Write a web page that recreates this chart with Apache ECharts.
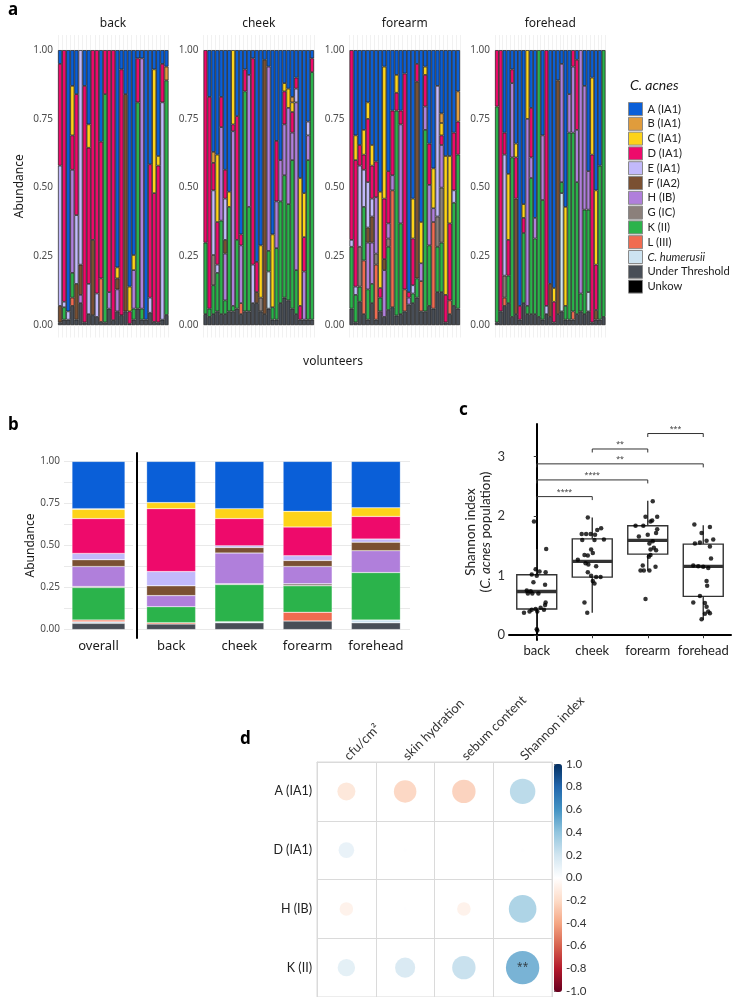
<!DOCTYPE html>
<html><head><meta charset="utf-8">
<script src="https://cdn.jsdelivr.net/npm/echarts@6/dist/echarts.min.js"></script>
<style>html,body{margin:0;padding:0;background:#fff}#c{width:734px;height:997px}</style>
</head><body><div id="c"></div>
<script>
// ---------- DATA ----------
const strainCodes = ['A','B','C','D','E','F','H','G','K','L','Chum','UT','UNK'];
const strainNames = ['A (IA1)','B (IA1)','C (IA1)','D (IA1)','E (IA1)','F (IA2)','H (IB)','G (IC)','K (II)','L (III)','C. humerusii','Under Threshold','Unkow'];
const sites = ['back','cheek','forearm','forehead'];

// Panel a: each volunteer bar lists strains from the top down, each followed by the
// cumulative abundance at the lower edge of its segment (first segment starts at 1.00).
const backBars = [
  ['A',.95,'D',.58,'E',.07,'F',.01,'UT',0],
  ['D',.085,'E',.065,'K',.02,'UT',0],
  ['A',.05,'E',.02,'UT',0],
  ['A',.87,'C',.69,'D',.565,'H',.19,'K',.10,'L',.07,'UT',0],
  ['A',.84,'D',.40,'E',.15,'F',.02,'UT',0],
  ['E',.22,'F',.11,'H',.08,'UT',0],
  ['A',.87,'D',.01,'UT',0],
  ['A',.73,'C',.645,'D',.15,'E',.04,'UT',0],
  ['D',.31,'F',.036,'UT',0],
  ['D',.115,'E',.03,'UT',0],
  ['A',.667,'D',.17,'L',.012,'UT',0],
  ['D',.84,'K',.01,'UT',0],
  ['D',.12,'H',.06,'UT',0],
  ['D',.018,'UT',0],
  ['A',.21,'C',.17,'F',.13,'H',.05,'UT',0],
  ['A',.93,'D',.036,'UT',0],
  ['A',.84,'F',.05,'UT',0],
  ['A',.14,'C',.05,'D',.005,'UT',0],
  ['A',.255,'C',.20,'H',.06,'K',.02,'UT',0],
  ['A',.97,'D',.81,'K',.06,'UT',0],
  ['A',.97,'H',.06,'K',.02,'UT',0],
  ['A',.02,'UT',0],
  ['A',.585,'D',.10,'E',.045,'UT',0],
  ['A',.93,'C',.48,'D',.012,'UT',0],
  ['A',.615,'C',.58,'D',.01,'UT',0],
  ['A',.95,'D',.81,'E',.02,'UT',0],
  ['A',.94,'B',.89,'K',.037,'UT',0]
];
const cheekBars = [
  ['D',.30,'K',.04,'UT',0],
  ['A',.83,'D',.06,'K',.03,'UT',0],
  ['A',.63,'B',.59,'D',.49,'E',.255,'G',.145,'K',.04,'UT',0],
  ['A',.62,'C',.375,'D',.22,'E',.19,'K',.05,'UT',0],
  ['A',.83,'D',.72,'H',.38,'K',.04,'UT',0],
  ['A',.565,'D',.46,'E',.31,'F',.26,'H',.09,'K',.04,'UT',0],
  ['A',.485,'C',.43,'K',.05,'UT',0],
  ['C',.73,'D',.705,'H',.07,'K',.05,'UT',0],
  ['A',.76,'D',.31,'K',.06,'UT',0],
  ['A',.33,'D',.29,'H',.08,'L',.04,'UT',0],
  ['A',.93,'D',.85,'K',.05,'UT',0],
  ['A',.91,'H',.43,'K',.05,'UT',0],
  ['A',.97,'D',.22,'E',.08,'UT',0],
  ['A',.23,'D',.12,'F',.08,'UT',0],
  ['A',.29,'C',.10,'G',.05,'UT',0],
  ['A',.965,'F',.04,'UT',0],
  ['A',.94,'H',.27,'K',.195,'Chum',.06,'UT',0],
  ['A',.33,'C',.065,'K',.02,'UT',0],
  ['A',.67,'D',.45,'H',.28,'K',.02,'UT',0],
  ['A',.60,'H',.45,'K',.08,'UT',0],
  ['A',.88,'C',.85,'D',.73,'H',.545,'K',.10,'UT',0],
  ['A',.86,'C',.79,'H',.44,'K',.09,'UT',0],
  ['A',.83,'B',.81,'C',.775,'D',.70,'H',.60,'K',.06,'UT',0],
  ['A',.90,'D',.86,'E',.81,'H',.20,'K',.04,'UT',0],
  ['A',.535,'C',.07,'D',.02,'UT',0],
  ['A',.48,'C',.32,'D',.195,'H',.02,'UT',0],
  ['A',.74,'E',.69,'H',.60,'K',.02,'UT',0],
  ['A',.97,'D',.92,'K',.02,'UT',0]
];
const forearmBars = [
  ['D',.31,'E',.285,'K',.06,'UT',0],
  ['A',.69,'C',.60,'D',.14,'E',.11,'K',.01,'UT',0],
  ['A',.655,'D',.58,'E',.285,'G',.14,'K',.085,'UT',0],
  ['A',.71,'C',.62,'D',.565,'E',.43,'K',.235,'L',.04,'UT',0],
  ['A',.81,'C',.75,'D',.52,'E',.355,'F',.30,'H',.13,'K',.02,'UT',0],
  ['A',.655,'C',.58,'D',.46,'E',.395,'F',.30,'H',.15,'K',.08,'UT',0],
  ['A',.595,'D',.465,'H',.26,'G',.22,'L',.02,'UT',0],
  ['A',.485,'C',.135,'D',.10,'K',.05,'UT',0],
  ['A',.94,'C',.46,'D',.24,'F',.20,'H',.03,'UT',0],
  ['A',.56,'D',.37,'H',.315,'G',.285,'K',.055,'UT',0],
  ['A',.78,'D',.545,'H',.49,'L',.065,'UT',0],
  ['A',.91,'C',.845,'D',.78,'K',.035,'UT',0],
  ['A',.78,'D',.73,'H',.37,'K',.04,'UT',0],
  ['A',.915,'D',.13,'L',.05,'UT',0],
  ['A',.12,'D',.10,'H',.075,'UT',0],
  ['A',.46,'C',.315,'D',.145,'E',.115,'K',.08,'UT',0],
  ['A',.95,'D',.885,'F',.17,'K',.10,'UT',0],
  ['A',.375,'C',.225,'H',.16,'L',.05,'UT',0],
  ['A',.94,'C',.91,'D',.795,'H',.71,'K',.05,'UT',0],
  ['A',.66,'D',.51,'H',.29,'K',.07,'UT',0],
  ['A',.57,'C',.425,'H',.375,'L',.06,'UT',0],
  ['A',.87,'E',.395,'G',.285,'K',.12,'UT',0],
  ['A',.77,'B',.735,'C',.69,'D',.655,'H',.50,'G',.30,'K',.12,'UT',0],
  ['A',.615,'C',.11,'D',.01,'UT',0],
  ['A',.615,'C',.37,'D',.09,'L',.04,'UT',0],
  ['A',.70,'D',.49,'E',.445,'K',.07,'UT',0],
  ['A',.85,'B',.74,'D',.62,'K',.06,'UT',0]
];
const foreheadBars = [
  ['D',.795,'K',.01,'UT',0],
  ['D',.05,'UT',0],
  ['A',.70,'D',.62,'E',.18,'G',.10,'L',.07,'UT',0],
  ['A',.55,'C',.31,'D',.18,'K',.08,'UT',0],
  ['A',.93,'D',.88,'H',.61,'K',.03,'UT',0],
  ['A',.66,'C',.61,'D',.46,'F',.04,'UT',0],
  ['A',.07,'D',.02,'UT',0],
  ['A',.44,'C',.39,'D',.335,'K',.08,'UT',0],
  ['C',.75,'H',.07,'K',.04,'UT',0],
  ['A',.79,'D',.61,'H',.535,'K',.04,'UT',0],
  ['A',.39,'H',.315,'K',.04,'UT',0],
  ['K',.03,'UT',0],
  ['A',.69,'H',.455,'K',.02,'UT',0],
  ['D',.07,'E',.04,'UT',0],
  ['A',.15,'F',.03,'UT',0],
  ['A',.135,'C',.085,'D',.01,'UT',0],
  ['A',.89,'F',.04,'UT',0],
  ['A',.95,'H',.52,'K',.48,'Chum',.05,'UT',0],
  ['A',.43,'C',.07,'K',.02,'UT',0],
  ['A',.84,'H',.70,'K',.02,'UT',0],
  ['D',.94,'H',.70,'K',.05,'L',.02,'UT',0],
  ['A',.965,'D',.71,'H',.52,'K',.04,'UT',0],
  ['H',.115,'K',.05,'UT',0],
  ['A',.87,'H',.42,'K',.04,'UT',0],
  ['A',.56,'H',.42,'K',.12,'Chum',.05,'UT',0],
  ['A',.90,'C',.62,'D',.01,'UT',0],
  ['A',.49,'C',.22,'D',.055,'F',.02,'UT',0],
  ['A',.58,'K',.02,'UT',0],
  ['K',.03,'UT',0]
];

// Panel b: mean composition (same encoding)
const overallStack  = ['A',.719,'B',.715,'C',.66,'D',.453,'E',.415,'F',.375,'H',.256,'G',.25,'K',.057,'L',.047,'Chum',.037,'UT',0];
const backStack     = ['A',.755,'C',.719,'D',.345,'E',.26,'F',.202,'H',.136,'K',.041,'L',.033,'UT',0];
const cheekStack    = ['A',.719,'C',.66,'D',.498,'E',.488,'F',.455,'H',.272,'G',.268,'K',.047,'Chum',.04,'UT',0];
const forearmStack  = ['A',.703,'C',.61,'D',.439,'E',.411,'F',.375,'H',.272,'G',.26,'K',.103,'L',.051,'UT',0];
const foreheadStack = ['A',.724,'C',.673,'D',.538,'E',.52,'F',.469,'H',.339,'K',.057,'Chum',.04,'UT',0];

// Panel c: Shannon index boxplots [lower whisker, Q1, median, Q3, upper whisker]
const shannonBox = [
  [0.09, 0.44, 0.736, 1.017, 1.45],
  [0.38, 0.977, 1.241, 1.62, 1.98],
  [1.09, 1.364, 1.594, 1.84, 2.26],
  [0.261, 0.653, 1.157, 1.532, 1.85]
];
const shannonBack     = [1.91,1.45,1.11,1.07,1.06,1.02,1.00,0.89,0.85,0.75,0.70,0.70,0.70,0.74,0.55,0.51,0.46,0.44,0.43,0.40,0.38,0.40,0.43,0.10,0.08];
const jitterBack      = [-0.05,0.17,-0.02,0.05,0.16,-0.09,0.0,-0.06,0.15,-0.18,-0.08,0.03,-0.16,-0.11,0.16,0.15,0.07,-0.02,-0.09,-0.13,-0.23,0.01,0.13,0.0,0.01];
const shannonCheek    = [1.98,1.80,1.77,1.70,1.70,1.70,1.69,1.61,1.60,1.60,1.44,1.35,1.34,1.38,1.27,1.21,1.19,1.16,1.06,1.00,0.98,0.98,0.91,0.87,0.55,0.38];
const jitterCheek     = [-0.08,0.16,0.09,-0.19,-0.11,-0.03,0.05,0.21,0.04,-0.18,-0.02,-0.14,-0.08,0.01,-0.26,-0.12,-0.07,0.07,-0.08,-0.02,0.07,0.15,0.01,0.04,-0.14,-0.09];
const shannonForearm  = [2.25,1.99,1.99,1.93,1.91,1.84,1.84,1.78,1.72,1.69,1.66,1.58,1.54,1.47,1.44,1.43,1.35,1.32,1.17,1.15,1.09,1.09,1.09,0.61];
const jitterForearm   = [0.09,-0.04,0.17,0.08,0.05,-0.22,-0.08,0.17,0.15,0.0,-0.16,0.09,0.03,0.11,0.05,0.15,0.05,0.02,-0.09,0.14,-0.13,-0.07,0.03,-0.04];
const shannonForehead = [1.86,1.82,1.72,1.61,1.59,1.56,1.54,1.49,1.29,1.17,1.16,1.15,1.13,0.91,0.83,0.66,0.55,0.54,0.48,0.40,0.37,0.27,0.36];
const jitterForehead  = [-0.16,0.12,-0.03,0.18,0.06,-0.06,-0.15,0.12,0.14,-0.18,-0.09,0.0,0.09,0.06,0.07,-0.06,-0.18,0.03,0.06,0.09,0.12,-0.03,0.03];
// significance brackets
const bracketFrom  = [2, 1, 0, 0, 0];
const bracketTo    = [3, 2, 3, 2, 1];
const bracketY     = [3.39, 3.13, 2.88, 2.61, 2.33];
const bracketLabel = ['***', '**', '**', '****', '****'];

// Panel d: correlations
const corrCols = ['cfu/cm²', 'skin hydration', 'sebum content', 'Shannon index'];
const corrRows = ['A (IA1)', 'D (IA1)', 'H (IB)', 'K (II)'];
const corrA = [-0.16, -0.25, -0.27, 0.32];
const corrD = [0.12, 0.005, 0.003, 0.005];
const corrH = [-0.09, 0.004, -0.09, 0.376];
const corrK = [0.15, 0.20, 0.27, 0.55];
const corrSig = [['','','',''],['','','',''],['','','',''],['','','','**']];
const colorbarTicks = [-1, 1, 0.2];

// ---------- STYLES ----------
const strainColors = ['#0a5fd8','#e09c3c','#fdd319','#ee0a6b','#c2b9fb','#7a5032','#b07fdb','#8b807b','#2bb34b','#f06b50','#cde3f1','#484e57','#000000'];
const stackOrder = ['UNK','UT','Chum','L','K','G','H','F','E','D','C','B','A'];
const nameOf = {}, colorOf = {};
strainCodes.forEach((c, i) => { nameOf[c] = strainNames[i]; colorOf[c] = strainColors[i]; });
const RdBu = ['#67001F','#B2182B','#D6604D','#F4A582','#FDDBC7','#FFFFFF','#D1E5F0','#92C5DE','#4393C3','#2166AC','#053061'];
const FONT = 'Noto Sans';
const FONT2 = 'Lato';

function segmentValues(bars) {
  const out = {};
  strainCodes.forEach(c => out[c] = bars.map(() => null));
  bars.forEach((bar, i) => {
    let prev = 1;
    for (let k = 0; k < bar.length; k += 2) {
      const code = bar[k], low = bar[k + 1];
      out[code][i] = (out[code][i] || 0) + (prev - low);
      prev = low;
    }
  });
  return out;
}

const grids = [], xAxes = [], yAxes = [], series = [];
// ---- panel a ----
const facetBars = [backBars, cheekBars, forearmBars, foreheadBars];
const facetLeft = [58, 203.5, 349.5, 495];
const aTicks = [0, 0.25, 0.5, 0.75, 1];
facetBars.forEach((bars, f) => {
  grids.push({left: facetLeft[f], top: 35, width: 110.5, height: 302.5});
  xAxes.push({type: 'category', gridIndex: f, data: bars.map((_, j) => 'V' + (j + 1)),
    axisLabel: {show: false}, axisTick: {show: false}, axisLine: {show: false},
    splitLine: {show: true, interval: 0, lineStyle: {color: '#eeeeee', width: 0.8}}});
  yAxes.push({type: 'value', gridIndex: f, min: -0.045, max: 1.055,
    axisLabel: {customValues: aTicks, formatter: v => v.toFixed(2), fontSize: 10, color: '#4d4d4d', margin: 5, fontFamily: FONT},
    axisTick: {show: false, customValues: aTicks}, axisLine: {show: false}, splitLine: {show: false},
    name: f === 0 ? 'Abundance' : '', nameLocation: 'middle', nameGap: 32, nameRotate: 90,
    nameTextStyle: {fontSize: 12, color: '#1a1a1a', fontFamily: FONT}});
  const vals = segmentValues(bars);
  stackOrder.forEach(code => {
    series.push({type: 'bar', name: nameOf[code], xAxisIndex: f, yAxisIndex: f, stack: 'a' + f,
      barCategoryGap: '0%', data: vals[code],
      itemStyle: {color: colorOf[code], borderColor: '#1b1b1b', borderWidth: 0.7},
      emphasis: {disabled: true}});
  });
});
// ---- panel b ----
const bTicks = [0, 0.25, 0.5, 0.75, 1];
const bGrid = [0, .125, .25, .375, .5, .625, .75, .875, 1];
grids.push({left: 64, top: 453, width: 69, height: 185});
grids.push({left: 137, top: 453, width: 273, height: 185});
xAxes.push({type: 'category', gridIndex: 4, data: ['overall'], axisTick: {show: false}, axisLine: {show: false},
  axisLabel: {interval: 0, fontSize: 13, color: '#1a1a1a', margin: 2, fontFamily: FONT}});
xAxes.push({type: 'category', gridIndex: 5, data: sites, axisTick: {show: false}, axisLine: {show: false},
  axisLabel: {interval: 0, fontSize: 13, color: '#1a1a1a', margin: 2, fontFamily: FONT}});
yAxes.push({type: 'value', gridIndex: 4, min: -0.05, max: 1.05,
  axisLabel: {customValues: bTicks, formatter: v => v.toFixed(2), fontSize: 10, color: '#4d4d4d', margin: 4, fontFamily: FONT},
  axisTick: {show: false, customValues: bGrid}, axisLine: {show: false},
  splitLine: {show: true, lineStyle: {color: '#e9e9e9', width: 1}},
  name: 'Abundance', nameLocation: 'middle', nameGap: 24, nameRotate: 90,
  nameTextStyle: {fontSize: 12, color: '#1a1a1a', fontFamily: FONT}});
yAxes.push({type: 'value', gridIndex: 5, min: -0.05, max: 1.05,
  axisLabel: {show: false}, axisTick: {show: false, customValues: bGrid},
  axisLine: {show: true, lineStyle: {color: '#000', width: 2}},
  splitLine: {show: true, lineStyle: {color: '#e9e9e9', width: 1}}});
const overallVals = segmentValues([overallStack]);
const siteVals = segmentValues([backStack, cheekStack, forearmStack, foreheadStack]);
stackOrder.forEach(code => {
  series.push({type: 'bar', name: nameOf[code], xAxisIndex: 4, yAxisIndex: 4, stack: 'b0', barWidth: 53,
    data: overallVals[code], itemStyle: {color: colorOf[code], borderColor: 'rgba(255,255,255,0.5)', borderWidth: 0.5}, emphasis: {disabled: true}});
  series.push({type: 'bar', name: nameOf[code], xAxisIndex: 5, yAxisIndex: 5, stack: 'b1', barWidth: 49,
    data: siteVals[code], itemStyle: {color: colorOf[code], borderColor: 'rgba(255,255,255,0.5)', borderWidth: 0.5}, emphasis: {disabled: true}});
});
// ---- panel c ----
grids.push({left: 509, top: 424, width: 222, height: 216});
xAxes.push({type: 'category', gridIndex: 6, data: sites,
  axisLine: {show: true, lineStyle: {color: '#000', width: 2}},
  axisTick: {show: true, alignWithLabel: true, interval: 0, length: 3, lineStyle: {color: '#333'}},
  axisLabel: {interval: 0, fontSize: 13, color: '#222', margin: 4, fontFamily: FONT2}});
xAxes.push({type: 'value', gridIndex: 6, min: -0.5, max: 3.5, show: false});
const cTicks = [0, 1, 2, 3];
yAxes.push({type: 'value', gridIndex: 6, min: -0.08, max: 3.55,
  axisLine: {show: true, lineStyle: {color: '#000', width: 2}},
  axisTick: {show: true, customValues: cTicks, length: 3, lineStyle: {color: '#333'}},
  axisLabel: {customValues: cTicks, fontSize: 13, color: '#333', margin: 4, fontFamily: FONT2},
  splitLine: {show: false},
  name: 'Shannon index\n({i|C. acnes} population)', nameLocation: 'middle', nameGap: 12, nameRotate: 90,
  nameTextStyle: {fontSize: 13.5, color: '#222', lineHeight: 15, fontFamily: FONT2,
    rich: {i: {fontStyle: 'italic', fontSize: 13.5, color: '#222', fontFamily: FONT2}}}});
series.push({type: 'custom', xAxisIndex: 7, yAxisIndex: 6, z: 2,
  data: shannonBox.map((b, i) => [i].concat(b)),
  renderItem: (params, api) => {
    const x = api.value(0);
    const lo = api.coord([x, api.value(1)]), q1 = api.coord([x, api.value(2)]), md = api.coord([x, api.value(3)]),
          q3 = api.coord([x, api.value(4)]), hi = api.coord([x, api.value(5)]);
    const w = api.size([0.72, 0])[0], cx = q1[0];
    const st = {stroke: '#333', lineWidth: 1.4, fill: null};
    return {type: 'group', children: [
      {type: 'line', shape: {x1: cx, y1: lo[1], x2: cx, y2: q1[1]}, style: st},
      {type: 'line', shape: {x1: cx, y1: q3[1], x2: cx, y2: hi[1]}, style: st},
      {type: 'rect', shape: {x: cx - w / 2, y: q3[1], width: w, height: q1[1] - q3[1]}, style: {stroke: '#333', lineWidth: 1.4, fill: '#fff'}},
      {type: 'line', shape: {x1: cx - w / 2, y1: md[1], x2: cx + w / 2, y2: md[1]}, style: {stroke: '#333', lineWidth: 3.4}}
    ]};
  }});
const shannonPts = [];
[[shannonBack, jitterBack], [shannonCheek, jitterCheek], [shannonForearm, jitterForearm], [shannonForehead, jitterForehead]]
  .forEach(([vals, jit], s) => vals.forEach((v, i) => shannonPts.push([s + jit[i], v])));
series.push({type: 'scatter', xAxisIndex: 7, yAxisIndex: 6, z: 3, data: shannonPts, symbolSize: 4.5,
  itemStyle: {color: '#000'}, emphasis: {disabled: true}});
series.push({type: 'custom', xAxisIndex: 7, yAxisIndex: 6, z: 3,
  data: bracketY.map((y, i) => [bracketFrom[i], bracketTo[i], y]),
  renderItem: (params, api) => {
    const a = api.coord([api.value(0), api.value(2)]), b = api.coord([api.value(1), api.value(2)]);
    const t = 3.5;
    return {type: 'group', children: [
      {type: 'polyline', shape: {points: [[a[0], a[1] + t], [a[0], a[1]], [b[0], b[1]], [b[0], b[1] + t]]},
        style: {stroke: '#333', lineWidth: 1, fill: null}},
      {type: 'text', x: (a[0] + b[0]) / 2, y: a[1] - 1,
        style: {text: bracketLabel[params.dataIndex], fontSize: 7, fill: '#333', align: 'center', verticalAlign: 'bottom', fontFamily: FONT}}
    ]};
  }});
// ---- panel d ----
grids.push({left: 317, top: 762, width: 235, height: 235, show: true, borderColor: '#dadada', borderWidth: 1});
xAxes.push({type: 'category', gridIndex: 7, data: corrCols, position: 'top',
  axisLine: {show: true, lineStyle: {color: '#dadada'}}, axisTick: {show: false},
  axisLabel: {interval: 0, rotate: -45, fontSize: 13, color: '#333', margin: 4, fontFamily: FONT2},
  splitLine: {show: true, interval: 0, lineStyle: {color: '#dadada'}}});
yAxes.push({type: 'category', gridIndex: 7, data: corrRows, inverse: true,
  axisLine: {show: true, lineStyle: {color: '#dadada'}}, axisTick: {show: false},
  axisLabel: {interval: 0, fontSize: 12.5, color: '#222', margin: 5, fontFamily: FONT2},
  splitLine: {show: true, interval: 0, lineStyle: {color: '#dadada'}}});
const corrData = [];
[corrA, corrD, corrH, corrK].forEach((row, r) => row.forEach((v, c) => corrData.push([c, r, v, corrSig[r][c]])));
const dSeriesIndex = series.length;
series.push({type: 'scatter', xAxisIndex: 8, yAxisIndex: 7, data: corrData.map(d => [d[0], d[1], d[2]]),
  symbolSize: v => 45 * Math.sqrt(Math.abs(v[2])),
  label: {show: true, position: 'inside', formatter: p => corrData[p.dataIndex][3], fontSize: 10, color: '#222', fontFamily: FONT},
  emphasis: {disabled: true}});
// colorbar axis
grids.push({left: 554, top: 764, width: 8, height: 228});
xAxes.push({type: 'value', gridIndex: 8, show: false});
yAxes.push({type: 'value', gridIndex: 8, position: 'right', min: colorbarTicks[0], max: colorbarTicks[1], interval: colorbarTicks[2],
  axisLine: {show: false}, axisTick: {show: true, length: 3, lineStyle: {color: '#666'}},
  axisLabel: {fontSize: 11.5, color: '#333', margin: 4, formatter: v => v.toFixed(1), fontFamily: FONT2},
  splitLine: {show: false}});

const txt = (x, y, text, opt) => Object.assign({type: 'text', x, y, silent: true,
  style: Object.assign({text, fontFamily: FONT, fontSize: 12, fill: '#1a1a1a', align: 'center', verticalAlign: 'middle'}, opt || {})});

const option = {
  animation: false,
  textStyle: {fontFamily: FONT},
  grid: grids, xAxis: xAxes, yAxis: yAxes, series: series,
  legend: {orient: 'vertical', left: 626, top: 100, itemWidth: 14, itemHeight: 13, itemGap: 0.8, icon: 'rect',
    data: strainNames, selectedMode: false, padding: 2,
    itemStyle: {borderColor: '#8a8a8a', borderWidth: 1},
    formatter: n => n === 'C. humerusii' ? '{i|' + n + '}' : n,
    textStyle: {fontSize: 11.2, lineHeight: 12, color: '#222', fontFamily: FONT2, padding: 0,
      rich: {i: {fontStyle: 'italic', fontSize: 11.2, lineHeight: 12, color: '#222', fontFamily: FONT2}}}},
  visualMap: {type: 'continuous', min: -1, max: 1, dimension: 2, seriesIndex: dSeriesIndex,
    inRange: {color: RdBu}, orient: 'vertical', left: 549, top: 759, itemWidth: 8, itemHeight: 228,
    calculable: false, text: null, show: true, hoverLink: false, padding: 5},
  graphic: [
    txt(8, 10, 'a', {fontSize: 17, fontWeight: 'bold', align: 'left', fill: '#000'}),
    txt(113, 24, sites[0]), txt(258.75, 24, sites[1]), txt(404.75, 24, sites[2]), txt(550.25, 24, sites[3]),
    txt(333, 362, 'volunteers'),
    txt(630, 85, 'C. acnes', {fontSize: 14, fontStyle: 'italic', align: 'left', fontFamily: FONT2}),
    txt(8, 425, 'b', {fontSize: 17, fontWeight: 'bold', align: 'left', fill: '#000'}),
    txt(459, 410, 'c', {fontSize: 17, fontWeight: 'bold', align: 'left', fill: '#000'}),
    txt(240, 739, 'd', {fontSize: 17, fontWeight: 'bold', align: 'left', fill: '#000'})
  ]
};
const chart = echarts.init(document.getElementById('c'), null, {renderer: 'canvas'});
chart.setOption(option);
</script></body></html>
